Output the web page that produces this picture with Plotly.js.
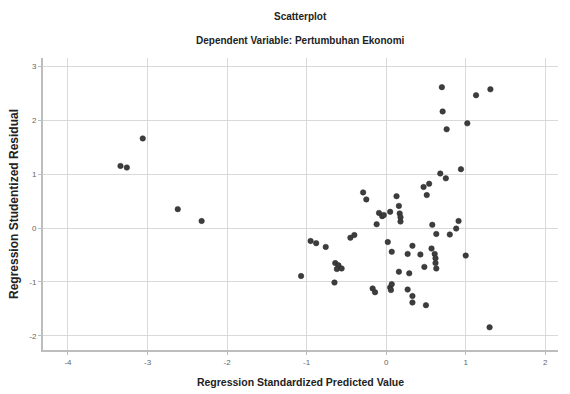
<!DOCTYPE html>
<html><head><meta charset="utf-8">
<script src="https://cdn.plot.ly/plotly-3.0.1.min.js"></script>
<style>html,body{margin:0;padding:0;background:#fff}#c{width:570px;height:394px}</style>
</head><body><div id="c"></div>
<script>
var predicted = [-3.06,-3.34,-3.26,-2.62,-2.32,
 0.70,1.31,1.13,0.71,1.02,0.76,0.94,0.68,0.75,0.47,0.54,0.51,-0.29,-0.25,0.13,0.16,
 0.17,0.18,0.18,0.05,-0.09,-0.05,-0.03,-0.12,0.58,0.63,0.80,0.88,0.91,1.00,
 -0.45,-0.40,-0.95,-0.88,-0.76,0.02,0.07,0.33,0.27,0.43,0.57,0.61,0.62,0.62,0.63,0.48,
 -0.64,-0.60,-0.56,-0.62,-1.07,-0.65,0.16,0.29,-0.17,-0.14,0.05,0.07,0.06,0.27,0.33,0.33,0.50,1.30];
var residual = [1.66,1.15,1.12,0.35,0.13,
 2.61,2.57,2.46,2.16,1.94,1.83,1.09,1.01,0.92,0.76,0.82,0.61,0.66,0.53,0.59,0.41,
 0.27,0.20,0.12,0.30,0.28,0.22,0.24,0.07,0.06,-0.11,-0.12,-0.01,0.13,-0.51,
 -0.18,-0.13,-0.24,-0.28,-0.35,-0.26,-0.44,-0.33,-0.48,-0.49,-0.38,-0.48,-0.56,-0.65,-0.75,-0.72,
 -0.65,-0.69,-0.75,-0.76,-0.89,-1.01,-0.81,-0.84,-1.12,-1.19,-1.10,-1.04,-1.15,-1.14,-1.26,-1.38,-1.43,-1.84];
var xTicks = [-4,-3,-2,-1,0,1,2];
var yTicks = [-2,-1,0,1,2,3];

var font = 'Liberation Sans, Arial, sans-serif';
Plotly.newPlot('c', [{
  x: predicted, y: residual, type: 'scatter', mode: 'markers',
  marker: {size: 5.5, color: '#3d3d3d', line: {color: '#2a2a2a', width: 0.5}},
  hoverinfo: 'none'
}], {
  width: 570, height: 394,
  margin: {l: 43, r: 12, t: 58, b: 44},
  paper_bgcolor: '#fff', plot_bgcolor: '#fff',
  showlegend: false,
  annotations: [
    {text: '<b>Scatterplot</b>', xref: 'paper', yref: 'paper', x: 0.5, y: 1, yshift: 42, showarrow: false, font: {family: font, size: 10, color: '#222'}, xanchor: 'center', yanchor: 'middle'},
    {text: '<b>Dependent Variable: Pertumbuhan Ekonomi</b>', x: 0.5, y: 1, xref: 'paper', yref: 'paper', yshift: 18, showarrow: false, font: {family: font, size: 10, color: '#222'}, xanchor: 'center', yanchor: 'middle'}
  ],
  xaxis: {
    range: [-4.314, 2.16], tickvals: xTicks, ticktext: xTicks.map(String),
    showgrid: true, gridcolor: '#d9d9d9', gridwidth: 1, zeroline: false,
    showline: true, linecolor: '#bdbdbd', linewidth: 2,
    ticks: 'outside', ticklen: 3, tickcolor: '#bdbdbd',
    tickfont: {family: font, size: 8, color: '#666'},
    title: {text: '<b>Regression Standardized Predicted Value</b>', font: {family: font, size: 10.5, color: '#222'}, standoff: 13}
  },
  yaxis: {
    range: [-2.26, 3.15], tickvals: yTicks, ticktext: yTicks.map(String),
    showgrid: true, gridcolor: '#d9d9d9', gridwidth: 1, zeroline: false,
    showline: true, linecolor: '#bdbdbd', linewidth: 2,
    ticks: 'outside', ticklen: 3, tickcolor: '#bdbdbd',
    tickfont: {family: font, size: 8, color: '#666'},
    title: {text: '<b>Regression Studentized Residual</b>', font: {family: font, size: 12, color: '#222'}, standoff: 8}
  }
}, {staticPlot: true, displayModeBar: false});
</script></body></html>
